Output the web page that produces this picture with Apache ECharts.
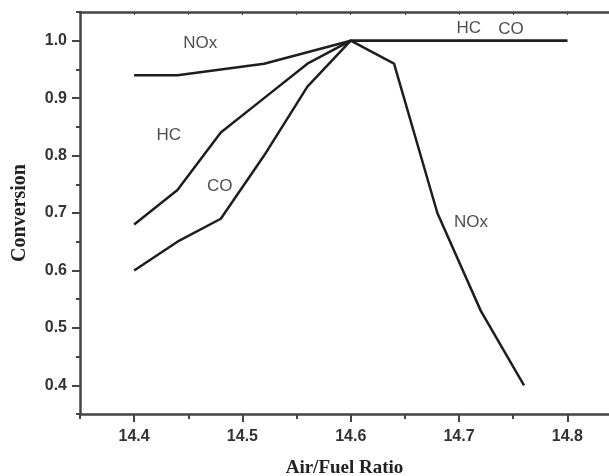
<!DOCTYPE html>
<html><head><meta charset="utf-8">
<script src="https://cdn.jsdelivr.net/npm/echarts@6/dist/echarts.min.js"></script>
<style>html,body{margin:0;padding:0;background:#fff}#c{width:609px;height:476px}</style>
</head><body><div id="c"></div>
<script>
const afr = [14.4, 14.44, 14.48, 14.52, 14.56, 14.6, 14.64, 14.68, 14.72, 14.76, 14.8];
const noxValues = [0.94, 0.94, 0.95, 0.96, 0.98, 1.0, 0.96, 0.70, 0.53, 0.40, null];
const hcValues = [0.68, 0.74, 0.84, 0.90, 0.96, 1.0, 1.0, 1.0, 1.0, 1.0, 1.0];
const coValues = [0.60, 0.65, 0.69, 0.80, 0.92, 1.0, 1.0, 1.0, 1.0, 1.0, 1.0];
const xMajorTicks = [14.4, 14.5, 14.6, 14.7, 14.8];
const xMinorTicks = [14.35, 14.45, 14.55, 14.65, 14.75];
const yMajorTicks = [0.4, 0.5, 0.6, 0.7, 0.8, 0.9, 1.0];
const yMinorTicks = [0.35, 0.45, 0.55, 0.65, 0.75, 0.85, 0.95, 1.05];
const labelText = ['NOx', 'HC', 'CO', 'HC', 'CO', 'NOx'];
const labelX = [14.461, 14.432, 14.479, 14.709, 14.748, 14.711];
const labelY = [0.996, 0.836, 0.746, 1.022, 1.019, 0.683];

const axisColor = '#444';
const lineColor = '#1e1e1e';
const sans = 'Arial, "Liberation Sans", Helvetica, sans-serif';
const serif = '"Times New Roman", "Liberation Serif", serif';

function pairs(xs, ys) { return xs.map((x, i) => [x, ys[i]]).filter(p => p[1] !== null); }

const chart = echarts.init(document.getElementById('c'), null, {renderer: 'canvas'});
const xBase = {type: 'value', min: 14.35, max: 14.8385, splitLine: {show: false}};
const yBase = {type: 'value', min: 0.35, max: 1.05, splitLine: {show: false}};
chart.setOption({
  animation: false,
  backgroundColor: '#fff',
  grid: {left: 80, right: 0, top: 12, bottom: 62, containLabel: false, outerBoundsMode: 'none'},
  xAxis: [
    Object.assign({}, xBase, {
      position: 'bottom',
      axisLine: {show: true, lineStyle: {color: axisColor, width: 2.5}},
      axisTick: {show: true, customValues: xMajorTicks, length: 8, lineStyle: {color: axisColor, width: 2}},
      axisLabel: {show: true, customValues: xMajorTicks, formatter: v => v.toFixed(1), margin: 15,
        fontSize: 16, fontWeight: 'bold', color: '#333', fontFamily: sans},
      name: 'Air/Fuel Ratio', nameLocation: 'middle', nameGap: 45,
      nameTextStyle: {fontSize: 19, fontWeight: 'bold', fontFamily: serif, color: '#222'}
    }),
    Object.assign({}, xBase, {
      position: 'bottom',
      axisLine: {show: false},
      axisTick: {show: true, customValues: xMinorTicks, length: 5, lineStyle: {color: axisColor, width: 2}},
      axisLabel: {show: false}
    }),
    Object.assign({}, xBase, {
      position: 'top',
      axisLine: {show: true, lineStyle: {color: axisColor, width: 2.5}},
      axisTick: {show: true, inside: true, customValues: xMajorTicks.concat(xMinorTicks), length: 3, lineStyle: {color: axisColor, width: 1}},
      axisLabel: {show: false}
    })
  ],
  yAxis: [
    Object.assign({}, yBase, {
      position: 'left',
      axisLine: {show: true, lineStyle: {color: axisColor, width: 2.5}},
      axisTick: {show: true, customValues: yMajorTicks, length: 8, lineStyle: {color: axisColor, width: 2}},
      axisLabel: {show: true, customValues: yMajorTicks, formatter: v => v.toFixed(1), margin: 13,
        fontSize: 16, fontWeight: 'bold', color: '#333', fontFamily: sans},
      name: 'Conversion', nameLocation: 'middle', nameGap: 50,
      nameTextStyle: {fontSize: 20, fontWeight: 'bold', fontFamily: serif, color: '#222'}
    }),
    Object.assign({}, yBase, {
      position: 'left',
      axisLine: {show: false},
      axisTick: {show: true, customValues: yMinorTicks, length: 4, lineStyle: {color: axisColor, width: 2}},
      axisLabel: {show: false}
    })
  ],
  series: [
    {name: 'NOx', type: 'line', data: pairs(afr, noxValues), showSymbol: false, symbol: 'none',
      lineStyle: {color: lineColor, width: 2.5}, xAxisIndex: 0, yAxisIndex: 0},
    {name: 'HC', type: 'line', data: pairs(afr, hcValues), showSymbol: false, symbol: 'none',
      lineStyle: {color: lineColor, width: 2.5}, xAxisIndex: 0, yAxisIndex: 0},
    {name: 'CO', type: 'line', data: pairs(afr, coValues), showSymbol: false, symbol: 'none',
      lineStyle: {color: lineColor, width: 2.5}, xAxisIndex: 0, yAxisIndex: 0},
    {name: 'labels', type: 'scatter', symbolSize: 0, xAxisIndex: 0, yAxisIndex: 0,
      data: labelX.map((x, i) => [x, labelY[i], labelText[i]]),
      label: {show: true, position: 'inside', formatter: p => p.value[2],
        fontSize: 17, color: '#222', fontFamily: sans}}
  ]
});
</script>
</body></html>
